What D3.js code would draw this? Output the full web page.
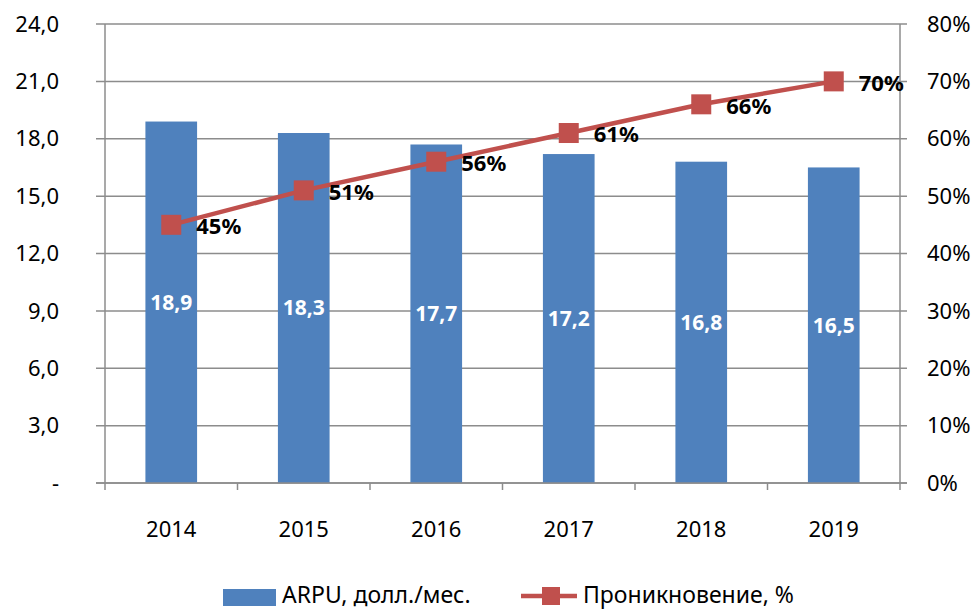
<!DOCTYPE html>
<html>
<head>
<meta charset="utf-8">
<script src="https://cdn.jsdelivr.net/npm/d3@7"></script>
<style>
  body { margin: 0; background: #fff; }
  text { font-family: "Noto Sans", "Open Sans", sans-serif; }
</style>
</head>
<body>
<div id="chart"></div>
<script>
const years = ["2014", "2015", "2016", "2017", "2018", "2019"];
const arpu = [18.9, 18.3, 17.7, 17.2, 16.8, 16.5];
const penetration = [0.45, 0.51, 0.56, 0.61, 0.66, 0.70];
const leftTicks = [0, 3, 6, 9, 12, 15, 18, 21, 24];
const rightTicks = [0, 0.1, 0.2, 0.3, 0.4, 0.5, 0.6, 0.7, 0.8];
const legendLabels = ["ARPU, долл./мес.", "Проникновение, %"];

const W = 978, H = 610;
const plot = { left: 105, right: 900, top: 24, bottom: 483 };
const barColor = "#4F81BD", lineColor = "#C0504D", gridColor = "#8c8c8c";
const fs = 22;

const svg = d3.select("#chart").append("svg")
    .attr("width", W)
    .attr("height", H);

const x = d3.scaleBand()
    .domain(years)
    .range([plot.left, plot.right])
    .paddingInner(0.61)
    .paddingOuter(0.305);

const yL = d3.scaleLinear().domain([0, 24]).range([plot.bottom, plot.top]);
const yR = d3.scaleLinear().domain([0, 0.8]).range([plot.bottom, plot.top]);

const fmtComma = d => d === 0 ? "-" : d3.format(".1f")(d).replace(".", ",");

// gridlines
svg.append("g")
    .selectAll("line")
    .data(leftTicks)
    .enter()
    .append("line")
    .attr("x1", plot.left - 9)
    .attr("x2", plot.right + 7)
    .attr("y1", d => yL(d))
    .attr("y2", d => yL(d))
    .attr("stroke", gridColor)
    .attr("stroke-width", 1.5);

// bars
svg.append("g")
    .selectAll("rect")
    .data(arpu)
    .enter()
    .append("rect")
    .attr("x", (d, i) => x(years[i]))
    .attr("y", d => yL(d))
    .attr("width", x.bandwidth())
    .attr("height", d => yL(0) - yL(d))
    .attr("fill", barColor);

// axis lines
svg.append("line")
    .attr("x1", plot.left).attr("x2", plot.left)
    .attr("y1", plot.top).attr("y2", plot.bottom + 7)
    .attr("stroke", gridColor).attr("stroke-width", 1.5);
svg.append("line")
    .attr("x1", plot.right).attr("x2", plot.right)
    .attr("y1", plot.top).attr("y2", plot.bottom + 7)
    .attr("stroke", gridColor).attr("stroke-width", 1.5);
svg.append("line")
    .attr("x1", plot.left - 9).attr("x2", plot.right + 7)
    .attr("y1", plot.bottom).attr("y2", plot.bottom)
    .attr("stroke", gridColor).attr("stroke-width", 1.5);

// x category tick marks
svg.append("g")
    .selectAll("line")
    .data(years.slice(1))
    .enter()
    .append("line")
    .attr("x1", d => x(d) - x.step() * x.paddingInner() / 2)
    .attr("x2", d => x(d) - x.step() * x.paddingInner() / 2)
    .attr("y1", plot.bottom)
    .attr("y2", plot.bottom + 7)
    .attr("stroke", gridColor)
    .attr("stroke-width", 1.5);

// left tick labels
svg.append("g")
    .selectAll("text")
    .data(leftTicks)
    .enter()
    .append("text")
    .attr("x", 59)
    .attr("y", d => yL(d))
    .attr("dy", "0.35em")
    .attr("text-anchor", "end")
    .attr("font-size", fs)
    .attr("fill", "#000")
    .text(fmtComma);

// right tick labels
svg.append("g")
    .selectAll("text")
    .data(rightTicks)
    .enter()
    .append("text")
    .attr("x", 927)
    .attr("y", d => yR(d))
    .attr("dy", "0.35em")
    .attr("font-size", fs)
    .attr("fill", "#000")
    .text(d => Math.round(d * 100) + "%");

// x labels
svg.append("g")
    .selectAll("text")
    .data(years)
    .enter()
    .append("text")
    .attr("x", d => x(d) + x.bandwidth() / 2)
    .attr("y", 529)
    .attr("dy", "0.35em")
    .attr("text-anchor", "middle")
    .attr("font-size", fs)
    .text(d => d);

// bar value labels
svg.append("g")
    .selectAll("text")
    .data(arpu)
    .enter()
    .append("text")
    .attr("x", (d, i) => x(years[i]) + x.bandwidth() / 2)
    .attr("y", d => (yL(d) + yL(0)) / 2)
    .attr("dy", "0.35em")
    .attr("text-anchor", "middle")
    .attr("font-size", 21)
    .attr("font-weight", "bold")
    .attr("fill", "#fff")
    .text(d => d3.format(".1f")(d).replace(".", ","));

// penetration line
const cx = i => x(years[i]) + x.bandwidth() / 2;
const line = d3.line()
    .x((d, i) => cx(i))
    .y(d => yR(d));

svg.append("path")
    .datum(penetration)
    .attr("d", line)
    .attr("fill", "none")
    .attr("stroke", lineColor)
    .attr("stroke-width", 4.5);

svg.append("g")
    .selectAll("rect")
    .data(penetration)
    .enter()
    .append("rect")
    .attr("x", (d, i) => cx(i) - 10)
    .attr("y", d => yR(d) - 10)
    .attr("width", 20)
    .attr("height", 20)
    .attr("fill", lineColor);

svg.append("g")
    .selectAll("text")
    .data(penetration)
    .enter()
    .append("text")
    .attr("x", (d, i) => cx(i) + 25)
    .attr("y", d => yR(d) + 1.5)
    .attr("dy", "0.35em")
    .attr("font-size", fs)
    .attr("font-weight", "bold")
    .attr("fill", "#000")
    .text(d => Math.round(d * 100) + "%");

// legend
const leg = svg.append("g");
leg.append("rect")
    .attr("x", 223).attr("y", 589)
    .attr("width", 53).attr("height", 17)
    .attr("fill", barColor);
leg.append("text")
    .attr("x", 282).attr("y", 603)
    .attr("font-size", 23)
    .text(legendLabels[0]);
leg.append("line")
    .attr("x1", 521).attr("x2", 577)
    .attr("y1", 596).attr("y2", 596)
    .attr("stroke", lineColor).attr("stroke-width", 4.5);
leg.append("rect")
    .attr("x", 542).attr("y", 587)
    .attr("width", 18).attr("height", 18)
    .attr("fill", lineColor);
leg.append("text")
    .attr("x", 583).attr("y", 603)
    .attr("font-size", 23)
    .text(legendLabels[1]);
</script>
</body>
</html>
